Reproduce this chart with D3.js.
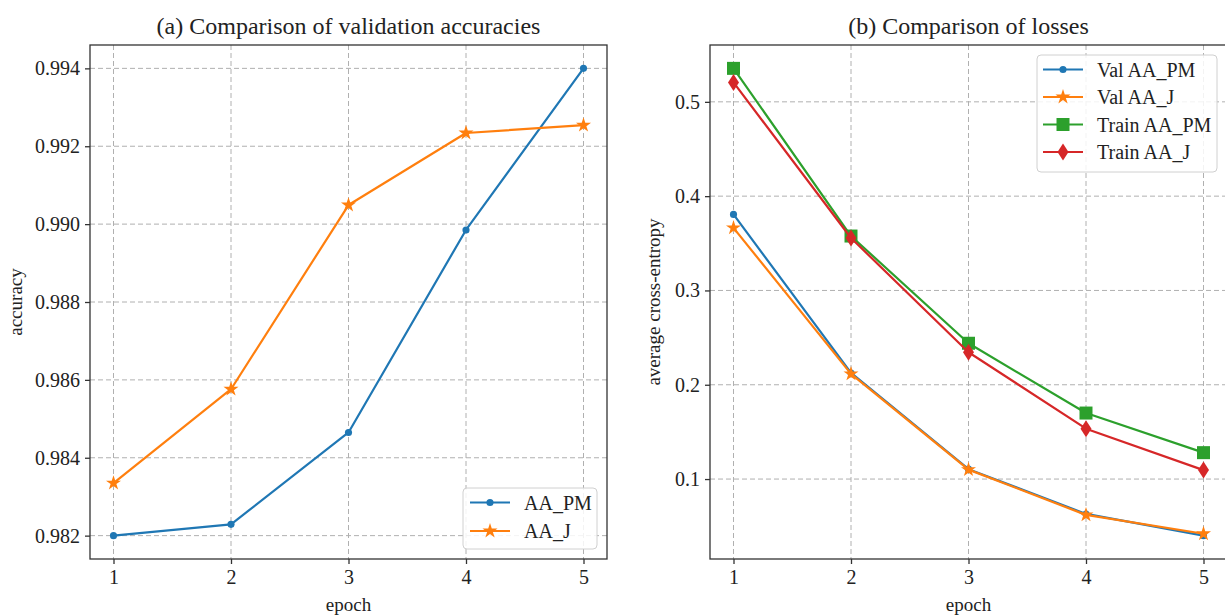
<!DOCTYPE html>
<html>
<head>
<meta charset="utf-8">
<script src="https://cdn.jsdelivr.net/npm/d3@7"></script>
<style>
  body { margin: 0; background: #fff; }
  svg text { font-family: "Liberation Serif", "DejaVu Serif", serif; fill: #222; }
  .grid line { stroke: #b0b0b0; stroke-width: 1; stroke-dasharray: 5,3; }
  .axis path { stroke: #333; stroke-width: 1.3; }
  .axis line { stroke: #333; stroke-width: 1.3; }
</style>
</head>
<body>
<div id="chart"></div>
<script>
// Data
var epochs = [1, 2, 3, 4, 5];

var accPM = [0.98200, 0.98229, 0.98465, 0.98985, 0.99400];
var accJ = [0.98335, 0.98576, 0.99049, 0.99234, 0.99254];

var valLossPM = [0.3806, 0.2125, 0.1105, 0.0630, 0.0400];
var valLossJ = [0.3664, 0.2115, 0.1100, 0.0620, 0.0420];
var trainLossPM = [0.5355, 0.3577, 0.2440, 0.1700, 0.1280];
var trainLossJ = [0.5206, 0.3556, 0.2345, 0.1534, 0.1095];

var accTicks = [0.982, 0.984, 0.986, 0.988, 0.990, 0.992, 0.994];
var lossTicks = [0.1, 0.2, 0.3, 0.4, 0.5];

var accLegend = ["AA_PM", "AA_J"];
var lossLegend = ["Val AA_PM", "Val AA_J", "Train AA_PM", "Train AA_J"];

var colors = ["#1f77b4", "#ff7f0e", "#2ca02c", "#d62728"];

// svg setup
var svgWidth = 1225;
var svgHeight = 615;

var svg = d3.select("#chart")
  .append("svg")
  .attr("width", svgWidth)
  .attr("height", svgHeight);

// panel boxes (left, top, width, height) + where the y label baseline sits
var panelA = { x: 90, y: 45, w: 517, h: 514, labelY: -68 };
var panelB = { x: 710, y: 45, w: 517, h: 514, labelY: -50 };

// marker shapes
function markerPath(kind) {
  if (kind === "dot") return d3.symbol().type(d3.symbolCircle).size(40)();
  if (kind === "star") return d3.symbol().type(d3.symbolStar).size(70)();
  if (kind === "square") return "M-6.5,-6.5H6.5V6.5H-6.5Z";
  if (kind === "diamond") return "M0,-8.5L5.5,0L0,8.5L-5.5,0Z";
} //end markerPath

function padDomain(lo, hi) {
  var pad = (hi - lo) * 0.05;
  return [lo - pad, hi + pad];
}

function drawPanel(panel, series, yTicks, yFormat, title, yLabel, legendNames, legendBox) {
  var g = svg.append("g")
    .attr("transform", `translate(${panel.x}, ${panel.y})`);

  var allVals = [];
  series.forEach(s => allVals = allVals.concat(s.values));

  var xScale = d3.scaleLinear()
    .domain(padDomain(1, 5))
    .range([0, panel.w]);

  var yScale = d3.scaleLinear()
    .domain(padDomain(d3.min(allVals), d3.max(allVals)))
    .range([panel.h, 0]);

  // grid lines
  var grid = g.append("g").attr("class", "grid");
  grid.selectAll(".vg")
    .data(epochs)
    .enter()
    .append("line")
    .attr("x1", d => xScale(d))
    .attr("x2", d => xScale(d))
    .attr("y1", 0)
    .attr("y2", panel.h);
  grid.selectAll(".hg")
    .data(yTicks)
    .enter()
    .append("line")
    .attr("x1", 0)
    .attr("x2", panel.w)
    .attr("y1", d => yScale(d))
    .attr("y2", d => yScale(d));

  // lines + markers
  var line = d3.line()
    .x((d, i) => xScale(epochs[i]))
    .y(d => yScale(d));

  series.forEach(function(s) {
    g.append("path")
      .datum(s.values)
      .attr("fill", "none")
      .attr("stroke", s.color)
      .attr("stroke-width", 2.2)
      .attr("stroke-linejoin", "round")
      .attr("d", line);

    g.selectAll(null)
      .data(s.values)
      .enter()
      .append("path")
      .attr("transform", (d, i) => `translate(${xScale(epochs[i])}, ${yScale(d)})`)
      .attr("d", markerPath(s.marker))
      .attr("fill", s.color);
  });

  // axes
  var bottomAxis = d3.axisBottom(xScale)
    .tickValues(epochs)
    .tickFormat(d3.format("d"))
    .tickSize(5)
    .tickSizeOuter(0)
    .tickPadding(6);

  var leftAxis = d3.axisLeft(yScale)
    .tickValues(yTicks)
    .tickFormat(yFormat)
    .tickSize(5)
    .tickSizeOuter(0)
    .tickPadding(5);

  var xAxis = g.append("g")
    .attr("class", "axis")
    .attr("transform", `translate(0, ${panel.h})`)
    .call(bottomAxis);
  xAxis.select(".domain").remove();
  xAxis.selectAll("text").style("font-size", "20px").style("fill", "#222");

  var yAxis = g.append("g")
    .attr("class", "axis")
    .call(leftAxis);
  yAxis.select(".domain").remove();
  yAxis.selectAll("text").style("font-size", "20px").style("fill", "#222");

  // frame
  g.append("rect")
    .attr("x", 0)
    .attr("y", 0)
    .attr("width", panel.w)
    .attr("height", panel.h)
    .attr("fill", "none")
    .attr("stroke", "#333")
    .attr("stroke-width", 1.3);

  // titles + labels
  g.append("text")
    .attr("x", panel.w / 2)
    .attr("y", -11)
    .attr("text-anchor", "middle")
    .style("font-size", "24px")
    .text(title);

  g.append("text")
    .attr("x", xScale(3))
    .attr("y", panel.h + 52)
    .attr("text-anchor", "middle")
    .style("font-size", "19px")
    .text("epoch");

  g.append("text")
    .attr("transform", "rotate(-90)")
    .attr("x", -panel.h / 2)
    .attr("y", panel.labelY)
    .attr("text-anchor", "middle")
    .style("font-size", "19px")
    .text(yLabel);

  // legend
  var lg = svg.append("g")
    .attr("transform", `translate(${legendBox.x}, ${legendBox.y})`);
  lg.append("rect")
    .attr("width", legendBox.w)
    .attr("height", legendBox.h)
    .attr("rx", 4)
    .attr("fill", "#fff")
    .attr("fill-opacity", 0.85)
    .attr("stroke", "#d0d0d0");

  legendNames.forEach(function(name, i) {
    var s = series[i];
    var yy = legendBox.first + i * legendBox.step;
    lg.append("line")
      .attr("x1", legendBox.lx)
      .attr("x2", legendBox.lx + 40)
      .attr("y1", yy)
      .attr("y2", yy)
      .attr("stroke", s.color)
      .attr("stroke-width", 2.2);
    lg.append("path")
      .attr("transform", `translate(${legendBox.lx + 20}, ${yy})`)
      .attr("d", markerPath(s.marker))
      .attr("fill", s.color);
    lg.append("text")
      .attr("x", legendBox.lx + 54)
      .attr("y", yy)
      .attr("dy", "0.35em")
      .style("font-size", "20px")
      .text(name);
  });
} //end drawPanel

// (a) accuracies
drawPanel(panelA,
  [
    { values: accPM, color: colors[0], marker: "dot" },
    { values: accJ, color: colors[1], marker: "star" }
  ],
  accTicks, d3.format(".3f"),
  "(a) Comparison of validation accuracies", "accuracy",
  accLegend,
  { x: 463, y: 488, w: 134, h: 61, lx: 7, first: 14.5, step: 28.5 });

// (b) losses
drawPanel(panelB,
  [
    { values: valLossPM, color: colors[0], marker: "dot" },
    { values: valLossJ, color: colors[1], marker: "star" },
    { values: trainLossPM, color: colors[2], marker: "square" },
    { values: trainLossJ, color: colors[3], marker: "diamond" }
  ],
  lossTicks, d3.format(".1f"),
  "(b) Comparison of losses", "average cross-entropy",
  lossLegend,
  { x: 1037, y: 55, w: 180, h: 117, lx: 6, first: 14.5, step: 27.5 });
</script>
</body>
</html>
